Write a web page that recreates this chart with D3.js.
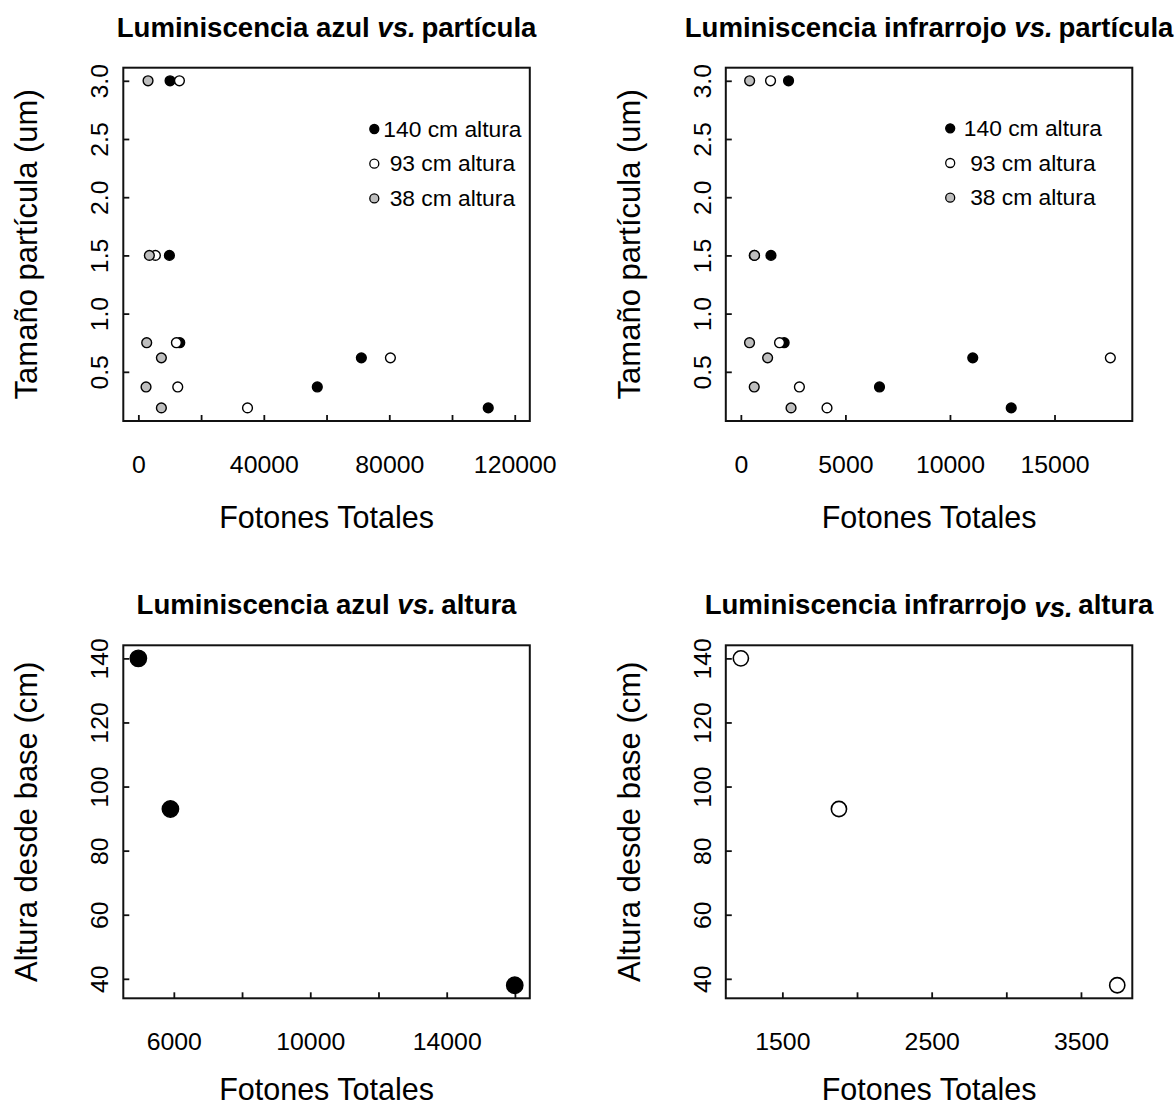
<!DOCTYPE html>
<html><head><meta charset="utf-8">
<script src="https://cdn.jsdelivr.net/npm/d3@7"></script>
<style>
html,body{margin:0;padding:0;background:#fff;}
svg{display:block;font-family:"Liberation Sans",Arial,Helvetica,sans-serif;}
</style></head><body>
<svg id="c" width="1175" height="1107"></svg>
<script>
// ---------- data ----------
const particleSizes = [3.0, 1.5, 0.75, 0.62, 0.37, 0.19];
const legendLabels = ["140 cm altura", "\u00a093 cm altura", "\u00a038 cm altura"];

const blue140 = [10110, 9900, 13200, 71100, 57050, 111550];
const blue93  = [13090, 5430, 12130, 80360, 12560, 34800];
const blue38  = [3090, 3510, 2660, 7340, 2450, 7340];

const ir140 = [2280, 1440, 2070, 11090, 6630, 12930];
const ir93  = [1420, 640, 1850, 17670, 2800, 4120];
const ir38  = [420, 655, 415, 1280, 640, 2400];

const heights = [140, 93, 38];
const blueTotal = [4960, 5900, 15995];
const irTotal = [1222, 1879, 3743];

const xTicksP1 = [0, 20000, 40000, 60000, 80000, 100000, 120000];
const xLabelsP1 = [0, 40000, 80000, 120000];
const xTicksP2 = [0, 5000, 10000, 15000];
const xLabelsP2 = [0, 5000, 10000, 15000];
const xTicksP3 = [6000, 8000, 10000, 12000, 14000, 16000];
const xLabelsP3 = [6000, 10000, 14000];
const xTicksP4 = [1500, 2000, 2500, 3000, 3500];
const xLabelsP4 = [1500, 2500, 3500];
const yTicksSize = [0.5, 1.0, 1.5, 2.0, 2.5, 3.0];
const yTicksHeight = [40, 60, 80, 100, 120, 140];

const seriesFill = ["#000000", "#ffffff", "#bebebe"];

// ---------- helpers ----------
const svg = d3.select("#c");
function pad(ext){ const r = ext[1]-ext[0]; return [ext[0]-0.04*r, ext[1]+0.04*r]; }

function panel(cfg){
  const g = svg.append("g").attr("transform", `translate(${cfg.left},${cfg.top})`);
  const W = cfg.w, H = cfg.h;
  const x = d3.scaleLinear().domain(pad(cfg.xExt)).range([0, W]);
  const y = d3.scaleLinear().domain(pad(cfg.yExt)).range([H, 0]);

  // title
  const t = g.append("text").attr("x", W/2).attr("y", -31)
    .attr("text-anchor", "middle").attr("font-size", 27.6).attr("font-weight", "bold").attr("fill", "#000");
  t.append("tspan").text(cfg.title[0] + " ");
  t.append("tspan").attr("font-style", "italic").attr("dy", cfg.vsDy || 0).text("vs.");
  t.append("tspan").attr("dy", -(cfg.vsDy || 0)).attr("dx", -2).text(" " + cfg.title[1]);

  // x axis
  const xa = g.append("g").attr("transform", `translate(0,${H})`)
    .call(d3.axisBottom(x).tickValues(cfg.xTicks).tickSizeInner(-6).tickSizeOuter(0).tickPadding(34)
      .tickFormat(d => cfg.xLabels.includes(d) ? String(d) : ""));
  xa.select(".domain").remove();
  xa.selectAll(".tick line").attr("stroke", "#111").attr("stroke-width", 1.8);
  xa.selectAll(".tick text").attr("font-size", 24.8).attr("fill", "#000")
    .attr("font-family", '"Liberation Sans",Arial,sans-serif');

  // y axis
  const ya = g.append("g")
    .call(d3.axisLeft(y).tickValues(cfg.yTicks).tickSizeInner(-6).tickSizeOuter(0)
      .tickFormat(cfg.yFormat));
  ya.select(".domain").remove();
  ya.selectAll(".tick line").attr("stroke", "#111").attr("stroke-width", 1.8);
  ya.selectAll(".tick text").attr("font-size", 24.8).attr("fill", "#000")
    .attr("font-family", '"Liberation Sans",Arial,sans-serif')
    .attr("transform", "rotate(-90)").attr("x", 0).attr("y", -15).attr("dy", 0)
    .attr("text-anchor", "middle");

  // axis titles
  g.append("text").attr("x", W/2).attr("y", H + cfg.xTitleOff).attr("text-anchor", "middle")
    .attr("font-size", 30.5).attr("fill", "#000").text("Fotones Totales");
  g.append("text").attr("transform", `translate(-86,${H/2}) rotate(-90)`).attr("text-anchor", "middle")
    .attr("font-size", 31).attr("fill", "#000").text(cfg.yTitle);

  // points
  cfg.series.forEach(s => {
    g.append("g").selectAll("circle").data(s.xs.map((v,i)=>[v, s.ys[i]])).join("circle")
      .attr("cx", d => x(d[0])).attr("cy", d => y(d[1])).attr("r", cfg.r)
      .attr("fill", s.fill).attr("stroke", "#000").attr("stroke-width", cfg.sw);
  });

  // box
  g.append("rect").attr("x", 0).attr("y", 0).attr("width", W).attr("height", H)
    .attr("fill", "none").attr("stroke", "#111").attr("stroke-width", 2);

  // legend
  if (cfg.legend){
    const L = cfg.legend;
    legendLabels.forEach((lab, i) => {
      const cy = L.y + i*34.7;
      g.append("circle").attr("cx", L.mx).attr("cy", cy).attr("r", 4.5)
        .attr("fill", seriesFill[i]).attr("stroke", "#000").attr("stroke-width", 1.3);
      g.append("text").attr("x", L.tx).attr("y", cy + 7.8).attr("font-size", 22.8).attr("fill", "#000").text(lab);
    });
  }
}

const fmt1 = d => d.toFixed(1);
const fmt0 = d => String(d);
const BW = 406.5, BH = 353.3;

panel({left:123.3, top:67.7, w:BW, h:BH, title:["Luminiscencia azul","partícula"], xTitleOff:107,
  xExt:[0,120000], yExt:d3.extent(particleSizes), xTicks:xTicksP1, xLabels:xLabelsP1,
  yTicks:yTicksSize, yFormat:fmt1, yTitle:"Tamaño partícula (um)", r:4.9, sw:1.4,
  series:[{xs:blue140, ys:particleSizes, fill:seriesFill[0]},
          {xs:blue93, ys:particleSizes, fill:seriesFill[1]},
          {xs:blue38, ys:particleSizes, fill:seriesFill[2]}],
  legend:{mx:251, tx:260, y:61.3}});

panel({left:725.8, top:67.7, w:BW, h:BH, title:["Luminiscencia infrarrojo","partícula"], xTitleOff:107,
  xExt:[0,18000], yExt:d3.extent(particleSizes), xTicks:xTicksP2, xLabels:xLabelsP2,
  yTicks:yTicksSize, yFormat:fmt1, yTitle:"Tamaño partícula (um)", r:4.9, sw:1.4,
  series:[{xs:ir140, ys:particleSizes, fill:seriesFill[0]},
          {xs:ir93, ys:particleSizes, fill:seriesFill[1]},
          {xs:ir38, ys:particleSizes, fill:seriesFill[2]}],
  legend:{mx:224.4, tx:238, y:60.6}});

panel({left:123.3, top:645.3, w:BW, h:353, title:["Luminiscencia azul","altura"], xTitleOff:102,
  xExt:d3.extent(blueTotal), yExt:d3.extent(heights), xTicks:xTicksP3, xLabels:xLabelsP3,
  yTicks:yTicksHeight, yFormat:fmt0, yTitle:"Altura desde base (cm)", r:8.2, sw:1.4,
  series:[{xs:blueTotal, ys:heights, fill:"#000000"}]});

panel({left:725.8, top:645.3, w:BW, h:353, title:["Luminiscencia infrarrojo","altura"], vsDy:3, xTitleOff:102,
  xExt:d3.extent(irTotal), yExt:d3.extent(heights), xTicks:xTicksP4, xLabels:xLabelsP4,
  yTicks:yTicksHeight, yFormat:fmt0, yTitle:"Altura desde base (cm)", r:7.6, sw:1.6,
  series:[{xs:irTotal, ys:heights, fill:"#ffffff"}]});
</script>
</body></html>
